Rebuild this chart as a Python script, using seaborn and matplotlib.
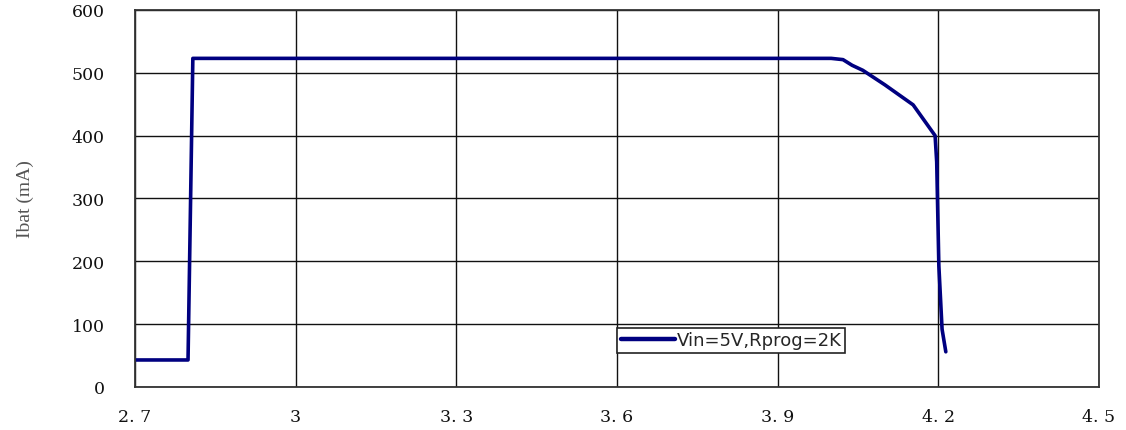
import matplotlib
matplotlib.use("Agg")
import matplotlib.pyplot as plt
import seaborn as sns
import pandas as pd

# Data
vbat = [2.70, 2.799, 2.808, 3.00, 3.60, 4.00, 4.022, 4.039, 4.059, 4.100, 4.153, 4.194, 4.197, 4.201, 4.207, 4.214]
ibat = [43, 43, 523, 523, 523, 523, 521, 512, 504, 481, 449, 400, 358, 193, 92, 56]
series_label = "Vin=5V,Rprog=2K"
x_ticks = [2.7, 3.0, 3.3, 3.6, 3.9, 4.2, 4.5]
x_tick_labels = ["2. 7", "3", "3. 3", "3. 6", "3. 9", "4. 2", "4. 5"]
y_ticks = [0, 100, 200, 300, 400, 500, 600]
y_label = "Ibat (mA)"

df = pd.DataFrame({"V": vbat, "I": ibat, "s": series_label})

sns.set_style("white")
fig = plt.figure(figsize=(11.26, 4.31), dpi=100)
ax = fig.add_axes([0.1199, 0.0998, 0.976 - 0.1199, 0.9745 - 0.0998])

sns.lineplot(data=df, x="V", y="I", hue="s", palette=["#000080"], sort=False,
             linewidth=2.6, ax=ax, estimator=None)

ax.set_xlim(2.7, 4.5)
ax.set_ylim(0, 600)
ax.set_xticks(x_ticks)
ax.set_xticklabels(x_tick_labels)
ax.set_yticks(y_ticks)
ax.grid(True, color="#111111", linewidth=1.0)
ax.set_axisbelow(True)
for sp in ax.spines.values():
    sp.set_visible(True)
    sp.set_color("#333333")
    sp.set_linewidth(1.3)

ax.tick_params(axis="both", length=0)
for lab in ax.get_xticklabels() + ax.get_yticklabels():
    lab.set_fontfamily("DejaVu Serif")
    lab.set_fontsize(12.5)
    lab.set_color("#111111")
ax.tick_params(axis="y", pad=22)
ax.tick_params(axis="x", pad=15)

ax.set_xlabel("")
ax.set_ylabel(y_label, fontfamily="Liberation Serif", fontsize=14, color="#555555")
ax.yaxis.set_label_coords(-0.105, 0.5)

leg = ax.legend(loc="lower left", bbox_to_anchor=(0.5, 0.09), borderaxespad=0,
                frameon=True, fancybox=False, edgecolor="#222222", framealpha=1,
                handlelength=3.0, handletextpad=0.1, borderpad=0.2,
                prop={"family": "DejaVu Sans", "size": 13})
leg.get_frame().set_linewidth(1.2)
for h in leg.get_lines():
    h.set_linewidth(3.2)

fig.savefig("out.png", dpi=100)
